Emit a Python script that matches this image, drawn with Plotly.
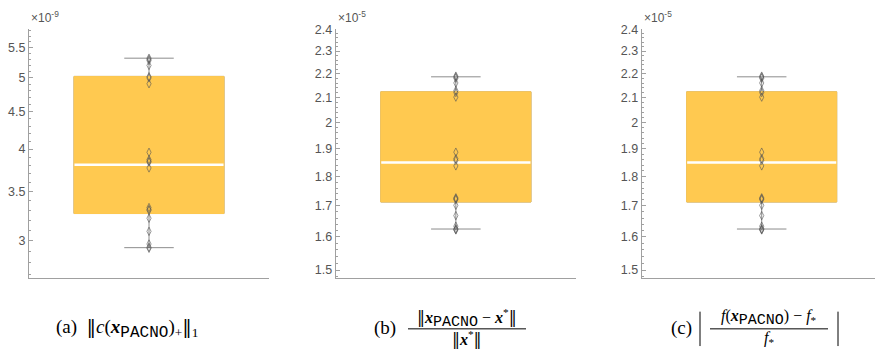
import math
import plotly.graph_objects as go

# ---- data (mantissas; exponents shown in the axis multiplier labels) ----
a_exp = -9
a_points = [5.32, 5.30, 5.28, 5.20, 5.02, 5.00, 4.91, 3.96, 3.87, 3.85, 3.84, 3.77,
            3.33, 3.31, 3.30, 3.22, 3.09, 2.97, 2.94, 2.93]
a_q1, a_median, a_q3, a_lower, a_upper = 3.268, 3.807, 5.024, 2.936, 5.32
a_ticks = [3, 3.5, 4, 4.5, 5, 5.5]
a_ticktext = ["3", "3.5", "4", "4.5", "5", "5.5"]

b_exp = -5
b_points = [2.190, 2.186, 2.181, 2.161, 2.129, 2.121, 2.102, 1.888, 1.864, 1.858,
            1.838, 1.727, 1.724, 1.721, 1.702, 1.668, 1.634, 1.626, 1.623, 1.622]
b_q1, b_median, b_q3, b_lower, b_upper = 1.713, 1.850, 2.124, 1.625, 2.187
bc_ticks = [1.5, 1.6, 1.7, 1.8, 1.9, 2.0, 2.1, 2.2, 2.3, 2.4]
bc_ticktext = ["1.5", "1.6", "1.7", "1.8", "1.9", "2", "2.1", "2.2", "2.3", "2.4"]

c_exp = -5
c_points = [2.190, 2.186, 2.181, 2.161, 2.129, 2.121, 2.102, 1.888, 1.864, 1.858,
            1.838, 1.727, 1.724, 1.721, 1.702, 1.668, 1.634, 1.626, 1.623, 1.622]
c_q1, c_median, c_q3, c_lower, c_upper = 1.713, 1.850, 2.124, 1.625, 2.187

# ---- styles ----
W, H = 875, 349
ORANGE = "rgb(255,201,80)"
WHISK = "#8c8c8c"
AXC = "#a0a0a0"
LABC = "#555555"
BOXW = 0.625

def px(x):
    return x / W

def py(y):
    return 1 - y / H

fig = go.Figure()

panels = [
    ("x", "y", a_points, a_q1, a_median, a_q3, a_lower, a_upper),
    ("x2", "y2", b_points, b_q1, b_median, b_q3, b_lower, b_upper),
    ("x3", "y3", c_points, c_q1, c_median, c_q3, c_lower, c_upper),
]

for xa, ya, pts, q1, med, q3, lo, hi in panels:
    # whiskers + caps
    fig.add_trace(go.Box(x=[0], q1=[q1], median=[med], q3=[q3], lowerfence=[lo],
                         upperfence=[hi], width=BOXW, whiskerwidth=0.33,
                         line=dict(color=WHISK, width=1), fillcolor="rgba(0,0,0,0)",
                         boxpoints=False, xaxis=xa, yaxis=ya, hoverinfo="skip",
                         showlegend=False))
    # filled box
    fig.add_trace(go.Box(x=[0], q1=[q1], median=[med], q3=[q3], lowerfence=[q1],
                         upperfence=[q3], width=BOXW, whiskerwidth=0,
                         line=dict(color=ORANGE, width=1), fillcolor=ORANGE,
                         boxpoints=False, xaxis=xa, yaxis=ya, hoverinfo="skip",
                         showlegend=False))
    # white median line
    fig.add_trace(go.Box(x=[0], q1=[med], median=[med], q3=[med], lowerfence=[med],
                         upperfence=[med], width=BOXW - 0.004, whiskerwidth=0,
                         line=dict(color="white", width=2.5), fillcolor="rgba(0,0,0,0)",
                         boxpoints=False, xaxis=xa, yaxis=ya, hoverinfo="skip",
                         showlegend=False))
    # data points
    fig.add_trace(go.Scatter(x=[0] * len(pts), y=pts, mode="markers",
                             marker=dict(symbol="diamond-tall-open", size=6,
                                         color="rgba(85,85,85,0.6)",
                                         line=dict(width=1)),
                             xaxis=xa, yaxis=ya, hoverinfo="skip", showlegend=False))

ydom = [py(276.7), py(23.4)]
xcommon = dict(showline=True, linecolor=AXC, linewidth=1, showticklabels=False,
               ticks="", showgrid=False, zeroline=False, fixedrange=True)
ycommon = dict(type="log", showline=True, linecolor=AXC, linewidth=1, ticks="inside",
               ticklen=4, tickcolor=AXC, showgrid=False, zeroline=False,
               tickfont=dict(family="Liberation Sans, Arial", size=12.5, color=LABC),
               domain=ydom, tickmode="array")

a_minor = [round(2.7 + 0.1 * i, 2) for i in range(32)]
bc_minor = [round(1.48 + 0.02 * i, 2) for i in range(47)]

fig.update_layout(
    width=W, height=H, margin=dict(l=0, r=0, t=0, b=0),
    paper_bgcolor="white", plot_bgcolor="white", boxmode="overlay",
    showlegend=False,
    xaxis=dict(domain=[px(29), px(269)], range=[-0.5, 0.5], anchor="y", **xcommon),
    xaxis2=dict(domain=[px(335.7), px(576)], range=[-0.5, 0.5], anchor="y2", **xcommon),
    xaxis3=dict(domain=[px(641.7), 1.0], range=[-0.5, 0.5 - 6.7 / 240], anchor="y3", **xcommon),
    yaxis=dict(range=[math.log10(2.67), math.log10(5.83)], anchor="x",
               tickvals=a_ticks, ticktext=a_ticktext,
               minor=dict(ticks="inside", ticklen=2, tickcolor=AXC, tickvals=a_minor),
               **ycommon),
    yaxis2=dict(range=[math.log10(1.477), math.log10(2.401)], anchor="x2",
                tickvals=bc_ticks, ticktext=bc_ticktext,
                minor=dict(ticks="inside", ticklen=2, tickcolor=AXC, tickvals=bc_minor),
                **ycommon),
    yaxis3=dict(range=[math.log10(1.477), math.log10(2.401)], anchor="x3",
                tickvals=bc_ticks, ticktext=bc_ticktext,
                minor=dict(ticks="inside", ticklen=2, tickcolor=AXC, tickvals=bc_minor),
                **ycommon),
)

# axis multiplier labels
for xl, e in [(29, a_exp), (335.7, b_exp), (641.7, c_exp)]:
    fig.add_annotation(xref="paper", yref="paper", x=px(xl), y=py(21.5), xanchor="left",
                       yanchor="bottom", showarrow=False,
                       text="×10<sup>%d</sup>" % e,
                       font=dict(family="Liberation Sans, Arial", size=12, color=LABC))

SERIF = "Liberation Serif, DejaVu Serif, serif"

def tt(size):
    return ('<sub><span style="font-family:Liberation Mono, DejaVu Sans Mono, monospace;'
            'font-size:%dpx">PACNO</span></sub>' % size)

XB = "<b><i>x</i></b>"
NORM = '<span style="font-family:DejaVu Serif">‖</span>'
cap_font = dict(family=SERIF, size=19, color="black")
frac_font = dict(family=SERIF, size=16, color="black")

def ann(x, y, text, font, xanchor="center"):
    fig.add_annotation(xref="paper", yref="paper", x=px(x), y=py(y), text=text,
                       showarrow=False, xanchor=xanchor, yanchor="middle", font=font,
                       borderpad=0)

def hline(x0, x1, y):
    fig.add_shape(type="line", xref="paper", yref="paper", x0=px(x0), x1=px(x1),
                  y0=py(y), y1=py(y), line=dict(color="black", width=1))

def vline(x, y0, y1):
    fig.add_shape(type="line", xref="paper", yref="paper", x0=px(x), x1=px(x),
                  y0=py(y0), y1=py(y1), line=dict(color="black", width=1))

# (a)
ann(55, 328, "(a)  " + NORM + "<i>c</i>(" + XB + tt(16) + ")<sub>+</sub>"
    + NORM + "<sub>1</sub>", cap_font, xanchor="left")
# (b)
ann(373, 328, "(b)", cap_font, xanchor="left")
ann(467, 317.5, NORM + XB + tt(15) + " − " + XB + "<sup>*</sup>" + NORM, frac_font)
hline(408, 526, 328.5)
ann(467, 338, NORM + XB + "<sup>*</sup>" + NORM, frac_font)
# (c)
ann(670, 328, "(c)", cap_font, xanchor="left")
vline(700, 311, 346)
vline(838, 311, 346)
ann(769, 317.5, "<i>f</i>(" + XB + tt(15) + ") − <i>f</i><sub>*</sub>", frac_font)
hline(710, 828, 328.5)
ann(769, 338, "<i>f</i><sub>*</sub>", frac_font)

fig.write_html("out.html", config={"displayModeBar": False},
               post_script="document.body.style.margin='0';document.body.style.padding='0';")
